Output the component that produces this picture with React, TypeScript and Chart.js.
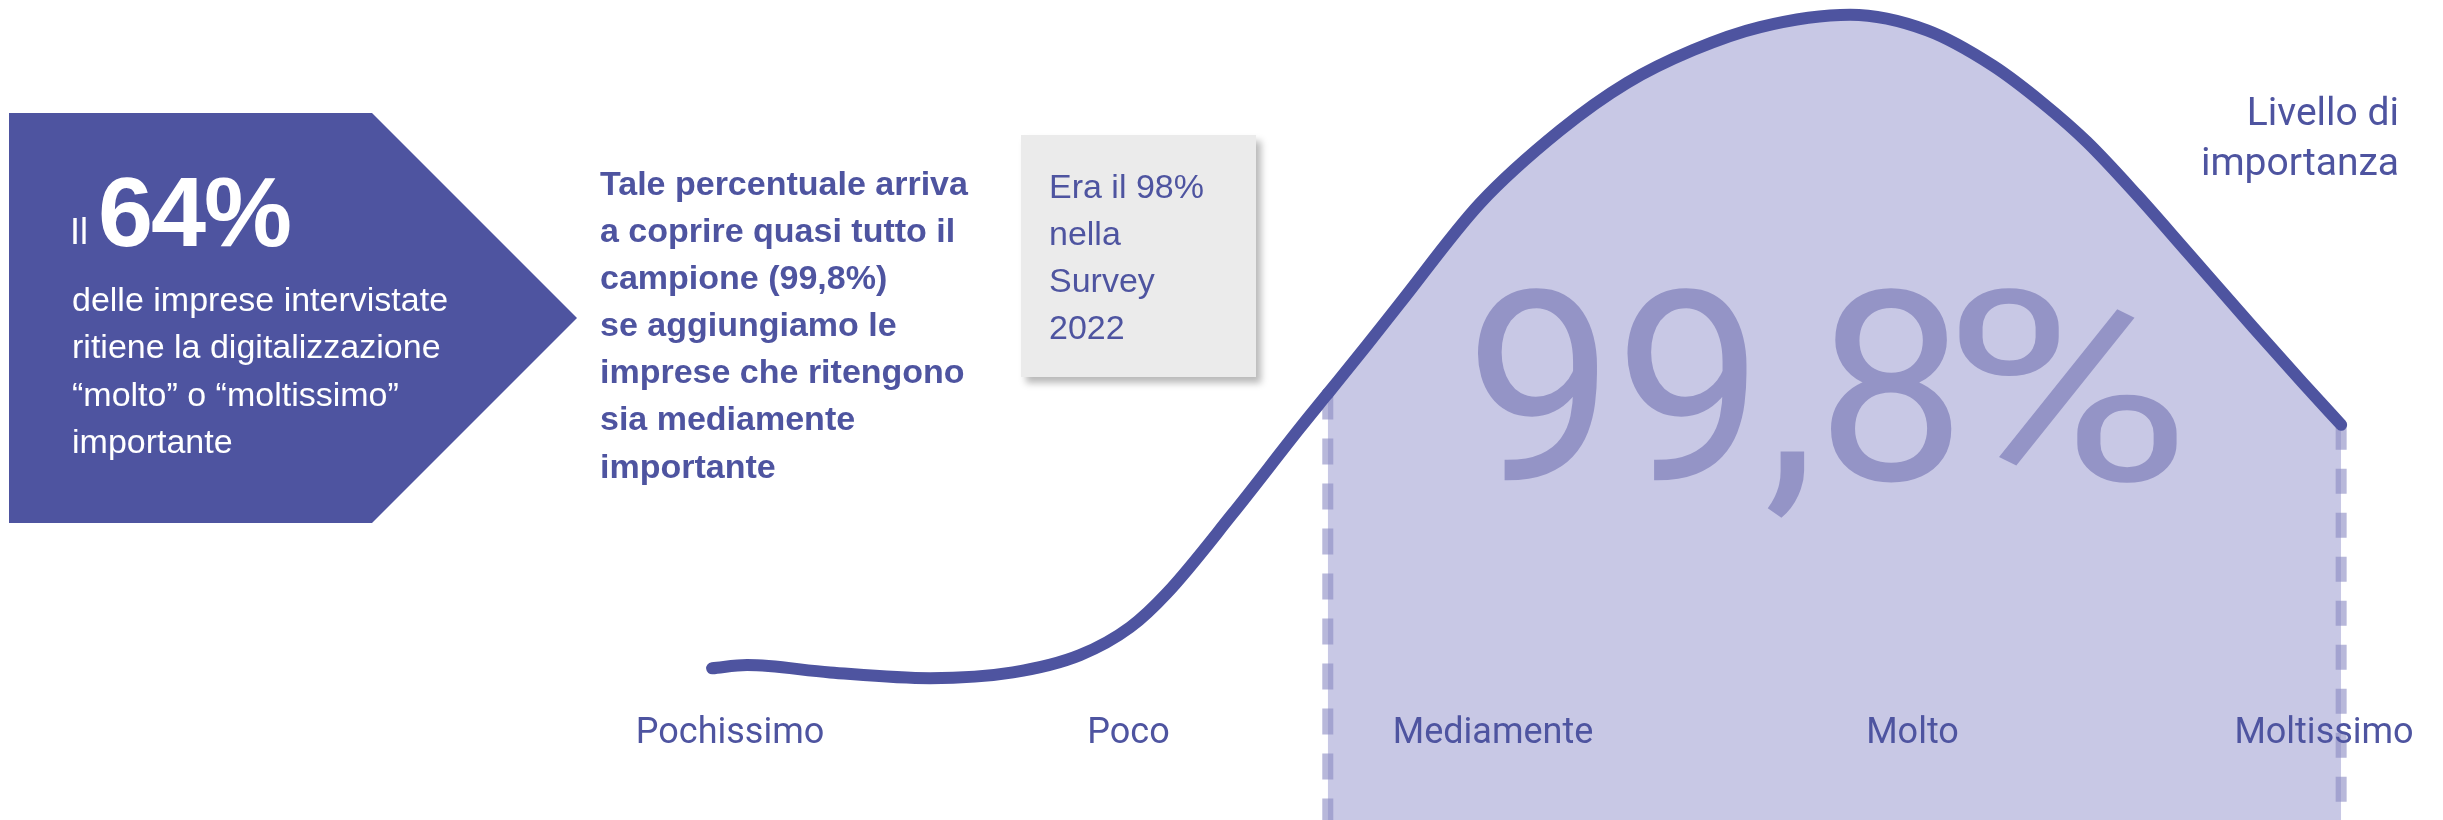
import React, { useEffect, useRef } from 'react';
import { Chart, registerables } from 'chart.js';

Chart.register(...registerables);

// ---- data ----
const CATEGORIES = ['Pochissimo', 'Poco', 'Mediamente', 'Molto', 'Moltissimo'];
// curve sampled along the category axis (0 = Pochissimo ... 4 = Moltissimo)
const CURVE_X = [-0.045, 0.043, 0.251, 0.502, 0.71, 0.878, 1.004, 1.097, 1.262, 1.43, 1.5, 1.598, 1.681, 1.882, 2.083, 2.251, 2.417, 2.585, 2.811, 3.004, 3.169, 3.295, 3.405, 3.531, 3.656, 3.822, 3.947, 4.043];
const CURVE_Y = [18.5, 18.9, 18.0, 17.3, 18.0, 20.1, 23.5, 27.7, 37.4, 47.8, 52.0, 57.9, 63.0, 75.2, 84.1, 89.9, 93.9, 96.7, 98.2, 96.3, 92.0, 87.4, 82.7, 76.2, 69.3, 60.1, 53.3, 48.2];
const SHADED_FROM = 1.5; // shaded area: from Mediamente onward
const SHARE_VALUE = '99,8';
const AXIS_TITLE = ['Livello di', 'importanza'];

// ---- styles ----
const W = 2443;
const H = 820;
const INK = '#4E54A0';
const FILL = '#C8C8E5';
const DASH = 'rgba(140,141,196,0.62)';
const BIG = '#9494C6';
const LABEL_BASELINE = 743;
const LABEL_NUDGE = [0, 0, -34, -13, 0];
const ARIAL = '"Liberation Sans", Arial, sans-serif';

const categoryLabels = {
  id: 'categoryLabels',
  afterDatasetsDraw(chart: any) {
    const { ctx, scales } = chart;
    ctx.save();
    ctx.font = '36px Roboto';
    ctx.fillStyle = INK;
    ctx.textAlign = 'center';
    ctx.textBaseline = 'alphabetic';
    CATEGORIES.forEach((c, i) => {
      ctx.fillText(c, scales.x.getPixelForValue(i) + LABEL_NUDGE[i], LABEL_BASELINE);
    });
    ctx.restore();
  },
};

function ChartCanvas() {
  const ref = useRef<HTMLCanvasElement | null>(null);
  useEffect(() => {
    if (!ref.current) return;
    const curve = CURVE_X.map((x, i) => ({ x, y: CURVE_Y[i] }));
    const iStart = CURVE_X.indexOf(SHADED_FROM);
    const last = CURVE_X.length - 1;
    const chart = new Chart(ref.current, {
      type: 'line',
      data: {
        datasets: [
          {
            data: curve,
            borderColor: INK,
            borderWidth: 12,
            borderCapStyle: 'round',
            pointRadius: 0,
            cubicInterpolationMode: 'monotone',
            fill: 'start',
            backgroundColor: FILL,
            segment: {
              backgroundColor: (c: any) => (c.p0.parsed.x >= SHADED_FROM - 1e-9 ? FILL : 'rgba(0,0,0,0)'),
            },
          } as any,
          {
            data: [
              { x: CURVE_X[iStart], y: CURVE_Y[iStart] },
              { x: CURVE_X[iStart], y: 0 },
            ],
            borderColor: DASH,
            borderWidth: 11,
            borderDash: [26, 19],
            borderCapStyle: 'butt',
            pointRadius: 0,
            fill: false,
          },
          {
            data: [
              { x: CURVE_X[last], y: CURVE_Y[last] },
              { x: CURVE_X[last], y: 0 },
            ],
            borderColor: DASH,
            borderWidth: 11,
            borderDash: [25, 19],
            borderCapStyle: 'butt',
            pointRadius: 0,
            fill: false,
          },
        ],
      },
      options: {
        animation: false,
        responsive: false,
        layout: { padding: 0 },
        scales: {
          x: { type: 'linear', display: false, min: -1.832, max: 4.2986 },
          y: { type: 'linear', display: false, min: 0, max: 100 },
        },
        plugins: {
          legend: { display: false },
          tooltip: { enabled: false },
          filler: { propagate: false, drawTime: 'beforeDatasetsDraw' },
        } as any,
        elements: { line: { clip: false } as any },
      },
      plugins: [categoryLabels],
    });
    return () => chart.destroy();
  }, []);
  return (
    <canvas
      ref={ref}
      width={W}
      height={H}
      style={{ position: 'absolute', left: 0, top: 0, width: W, height: H, display: 'block' }}
    />
  );
}

export default function App() {
  useEffect(() => {
    document.body.style.margin = '0';
  }, []);
  const abs = (o: any) => ({ position: 'absolute' as const, whiteSpace: 'nowrap' as const, ...o });
  return (
    <div style={{ position: 'absolute', left: 0, top: 0, width: W, height: H, overflow: 'hidden', background: '#fff' }}>
      <ChartCanvas />
      {/* left arrow panel */}
      <div
        style={abs({
          left: 9,
          top: 113,
          width: 568,
          height: 410,
          background: INK,
          clipPath: 'polygon(0 0, 363px 0, 568px 205px, 363px 410px, 0 410px)',
        })}
      />
      <div style={abs({ left: 70, top: 213.5, fontFamily: ARIAL, fontSize: 36, lineHeight: '36px', color: '#fff' })}>Il</div>
      <div
        style={abs({
          left: 98,
          top: 163,
          fontFamily: ARIAL,
          fontWeight: 'bold',
          fontSize: 99,
          lineHeight: '98px',
          letterSpacing: '-2px',
          color: '#fff',
        })}
      >
        64%
      </div>
      <div style={abs({ left: 72, top: 275.5, fontFamily: ARIAL, fontSize: 34, lineHeight: '47.5px', color: '#fff' })}>
        delle imprese intervistate
        <br />
        ritiene la digitalizzazione
        <br />
        “molto” o “moltissimo”
        <br />
        importante
      </div>
      {/* middle bold text */}
      <div style={abs({ left: 600, top: 159.6, fontFamily: ARIAL, fontWeight: 'bold', fontSize: 34, lineHeight: '47.17px', color: INK })}>
        Tale percentuale arriva
        <br />
        a coprire quasi tutto il
        <br />
        campione (99,8%)
        <br />
        se aggiungiamo le
        <br />
        imprese che ritengono
        <br />
        sia mediamente
        <br />
        importante
      </div>
      {/* grey note box */}
      <div
        style={abs({
          left: 1021,
          top: 135,
          width: 235,
          height: 242,
          background: '#EBEBEB',
          boxShadow: '5px 6px 7px rgba(0,0,0,0.28)',
        })}
      />
      <div style={abs({ left: 1049, top: 162.5, fontFamily: ARIAL, fontSize: 34, lineHeight: '47.33px', color: INK })}>
        Era il 98%
        <br />
        nella
        <br />
        Survey
        <br />
        2022
      </div>
      {/* big share */}
      <div style={abs({ left: 1465, top: 256, fontFamily: 'Roboto', fontSize: 266, lineHeight: '266px', color: BIG })}>
        {SHARE_VALUE}
        <span style={{ display: 'inline-block', marginLeft: -24, transform: 'scaleX(1.28)', transformOrigin: '0 50%' }}>%</span>
      </div>
      {/* axis title */}
      <div
        style={abs({
          right: W - 2399,
          top: 86.7,
          fontFamily: 'Roboto',
          fontSize: 39,
          lineHeight: '50px',
          color: INK,
          textAlign: 'right',
        })}
      >
        {AXIS_TITLE[0]}
        <br />
        {AXIS_TITLE[1]}
      </div>
    </div>
  );
}
